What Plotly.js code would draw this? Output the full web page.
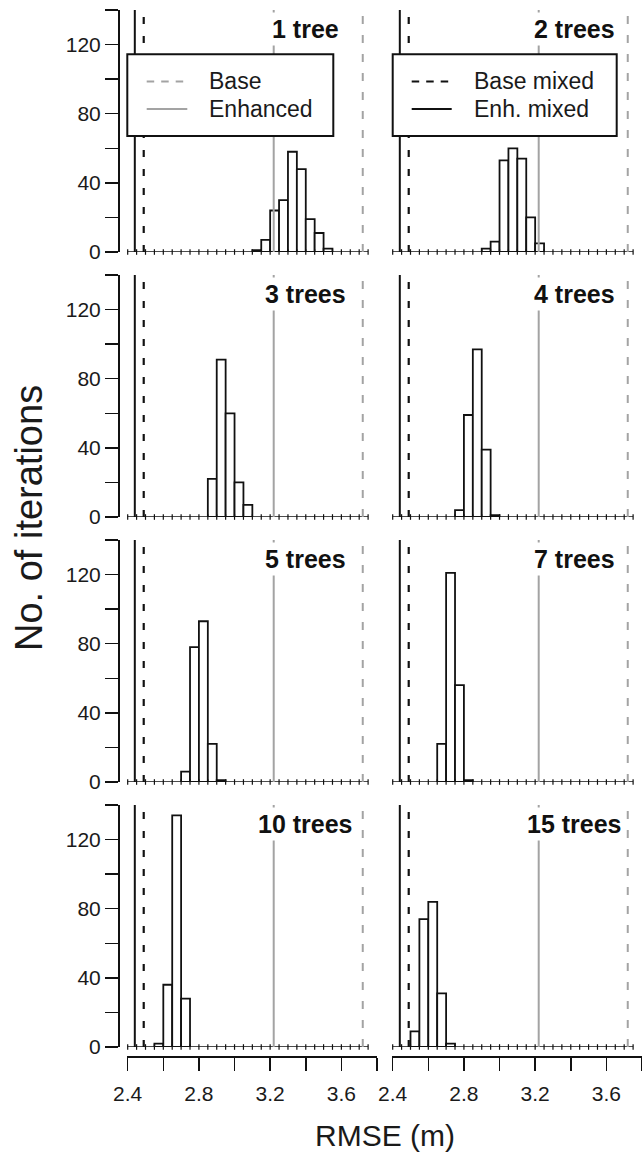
<!DOCTYPE html>
<html><head><meta charset="utf-8">
<script src="https://cdn.plot.ly/plotly-3.0.1.min.js"></script>
<style>html,body{margin:0;padding:0;background:#fff}#chart{width:642px;height:1161px}</style>
</head><body><div id="chart"></div>
<script>
// ---------------- data ----------------
const panelLabels = ['1 tree','2 trees','3 trees','4 trees','5 trees','7 trees','10 trees','15 trees'];
const binWidth = 0.05;
const binLefts1 = [3.10,3.15,3.20,3.25,3.30,3.35,3.40,3.45,3.50];
const counts1   = [1,7,24,30,58,48,19,11,2];
const binLefts2 = [2.90,2.95,3.00,3.05,3.10,3.15,3.20];
const counts2   = [2,6,53,60,54,20,5];
const binLefts3 = [2.85,2.90,2.95,3.00,3.05];
const counts3   = [22,91,60,20,7];
const binLefts4 = [2.75,2.80,2.85,2.90,2.95];
const counts4   = [4,59,97,39,1];
const binLefts5 = [2.70,2.75,2.80,2.85,2.90];
const counts5   = [6,78,93,22,1];
const binLefts7 = [2.65,2.70,2.75,2.80];
const counts7   = [22,121,56,1];
const binLefts10 = [2.55,2.60,2.65,2.70];
const counts10   = [2,36,134,28];
const binLefts15 = [2.50,2.55,2.60,2.65,2.70];
const counts15   = [9,74,84,31,2];
const binEdges = [2.40,2.45,2.50,2.55,2.60,2.65,2.70,2.75,2.80,2.85,2.90,2.95,3.00,3.05,3.10,
                  3.15,3.20,3.25,3.30,3.35,3.40,3.45,3.50,3.55,3.60,3.65,3.70,3.75];
const refNames = ['Base','Enhanced','Base mixed','Enh. mixed'];
const refRMSE  = [3.72, 3.22, 2.49, 2.44];
const xTickVals = [2.4,2.6,2.8,3.0,3.2,3.4,3.6,3.8];
const xTickText = ['2.4','','2.8','','3.2','','3.6',''];
const yTickVals = [0,20,40,60,80,100,120,140];
const yTickText = ['0','','40','','80','','120',''];
const xTitle = 'RMSE (m)';
const yTitle = 'No. of iterations';

const panelLefts  = [binLefts1,binLefts2,binLefts3,binLefts4,binLefts5,binLefts7,binLefts10,binLefts15];
const panelCounts = [counts1,counts2,counts3,counts4,counts5,counts7,counts10,counts15];

// ---------------- styling / geometry ----------------
const W = 642, H = 1161;
const FONT = 'Liberation Sans, Arial, Helvetica, sans-serif';
const GRAY = '#a3a3a3', BLACK = '#111111';
const refStyles = [
  {color: GRAY,  width: 2,   dash: '8px,11px'},
  {color: GRAY,  width: 2,   dash: 'solid'},
  {color: BLACK, width: 2.2, dash: '7px,12px'},
  {color: BLACK, width: 2,   dash: 'solid'}
];
const xRange = [2.395, 3.8];
const yRange = [0, 140];
const colLeft = [126.8, 391.8], colWidth = 250.2;
const rowTop = [10, 275, 540, 805], rowHeight = 242;
const labelCenter = [0.716, 0.73];
const px = x => x / W;
const py = y => 1 - y / H;

const data = [];
const layout = {
  width: W, height: H,
  margin: {l: 0, r: 0, t: 0, b: 0},
  paper_bgcolor: '#fff', plot_bgcolor: 'rgba(0,0,0,0)',
  showlegend: false,
  font: {family: FONT, color: '#1a1a1a'},
  shapes: [], annotations: []
};

for (let i = 0; i < 8; i++) {
  const row = Math.floor(i / 2), col = i % 2;
  const n = i === 0 ? '' : String(i + 1);
  const xa = 'x' + n, ya = 'y' + n;
  const bottom = row === 3;
  const left = col === 0;

  layout['xaxis' + n] = Object.assign({
    domain: [px(colLeft[col]), Math.min(1, px(colLeft[col] + colWidth))],
    range: xRange, fixedrange: true, showgrid: false, zeroline: false
  }, bottom ? {
    anchor: 'free', position: 1 - 1056 / H,
    showline: true, linecolor: BLACK, linewidth: 1.5,
    ticks: 'outside', ticklen: 13, tickwidth: 1.5, tickcolor: BLACK,
    tickmode: 'array', tickvals: xTickVals, ticktext: xTickText,
    ticklabelstandoff: 5,
    tickfont: {size: 21, family: FONT, color: '#1a1a1a'}
  } : {anchor: ya, visible: false});

  layout['yaxis' + n] = Object.assign({
    domain: [py(rowTop[row] + rowHeight), py(rowTop[row])],
    range: yRange, fixedrange: true, showgrid: false, zeroline: false
  }, left ? {
    anchor: 'free', position: 118 / W,
    showline: true, linecolor: BLACK, linewidth: 1.5,
    ticks: 'outside', ticklen: 13, tickwidth: 1.5, tickcolor: BLACK,
    tickmode: 'array', tickvals: yTickVals, ticktext: yTickText,
    tickfont: {size: 21, family: FONT, color: '#1a1a1a'}
  } : {anchor: xa, visible: false});

  // histogram bars
  data.push({
    type: 'bar', x: panelLefts[i], y: panelCounts[i], width: binWidth, offset: 0,
    xaxis: xa, yaxis: ya, cliponaxis: false, hoverinfo: 'skip',
    marker: {color: '#ffffff', line: {color: BLACK, width: 1.8}}
  });
  // zero-count bins baseline
  data.push({
    type: 'scatter', mode: 'lines+markers', x: binEdges, y: binEdges.map(() => 0),
    xaxis: xa, yaxis: ya, cliponaxis: false, hoverinfo: 'skip',
    line: {color: BLACK, width: 1.6},
    marker: {symbol: 'line-ns', size: 4, line: {color: BLACK, width: 1.2}}
  });
  // reference RMSE lines
  refRMSE.forEach((v, k) => {
    data.push({
      type: 'scatter', mode: 'lines', name: refNames[k], x: [v, v], y: yRange,
      xaxis: xa, yaxis: ya, cliponaxis: false, hoverinfo: 'skip',
      line: {color: refStyles[k].color, width: refStyles[k].width, dash: refStyles[k].dash}
    });
  });
  // panel label
  layout.annotations.push({
    xref: xa + ' domain', yref: ya + ' domain', x: labelCenter[col], y: 1 - 19 / rowHeight,
    xanchor: 'center', yanchor: 'middle', showarrow: false,
    text: panelLabels[i], bgcolor: '#ffffff', borderpad: 2,
    font: {family: FONT, size: 25, weight: 'bold', color: '#111'}
  });
}

// manual legends
const legends = [
  {box: [127.3, 54.3, 333.3, 136], sample: [146.7, 187.3], textX: 206.7, items: [0, 1]},
  {box: [392.7, 54.3, 616.7, 136], sample: [411.7, 451.7], textX: 471.7, items: [2, 3]}
];
const itemY = [81.5, 109];
legends.forEach(lg => {
  layout.shapes.push({
    type: 'rect', xref: 'paper', yref: 'paper',
    x0: px(lg.box[0]), x1: px(lg.box[2]), y0: py(lg.box[3]), y1: py(lg.box[1]),
    fillcolor: '#ffffff', line: {color: BLACK, width: 2}, layer: 'above'
  });
  lg.items.forEach((k, j) => {
    const st = refStyles[k];
    layout.shapes.push({
      type: 'line', xref: 'paper', yref: 'paper',
      x0: px(lg.sample[0]), x1: px(lg.sample[1]), y0: py(itemY[j]), y1: py(itemY[j]),
      line: {color: st.color, width: st.width, dash: st.dash === 'solid' ? 'solid' : '7.5px,7px'},
      layer: 'above'
    });
    layout.annotations.push({
      xref: 'paper', yref: 'paper', x: px(lg.textX), y: py(itemY[j]),
      xanchor: 'left', yanchor: 'middle', showarrow: false,
      text: refNames[k], font: {family: FONT, size: 23, color: '#1a1a1a'}
    });
  });
});

// axis titles
layout.annotations.push({
  xref: 'paper', yref: 'paper', x: px(29), y: py(518), textangle: -90,
  xanchor: 'center', yanchor: 'middle', showarrow: false,
  text: yTitle, font: {family: FONT, size: 38, color: '#1a1a1a'}
});
layout.annotations.push({
  xref: 'paper', yref: 'paper', x: px(385), y: py(1135),
  xanchor: 'center', yanchor: 'middle', showarrow: false,
  text: xTitle, font: {family: FONT, size: 30, color: '#1a1a1a'}
});

Plotly.newPlot('chart', data, layout, {displayModeBar: false, staticPlot: true});
</script>
</body></html>
